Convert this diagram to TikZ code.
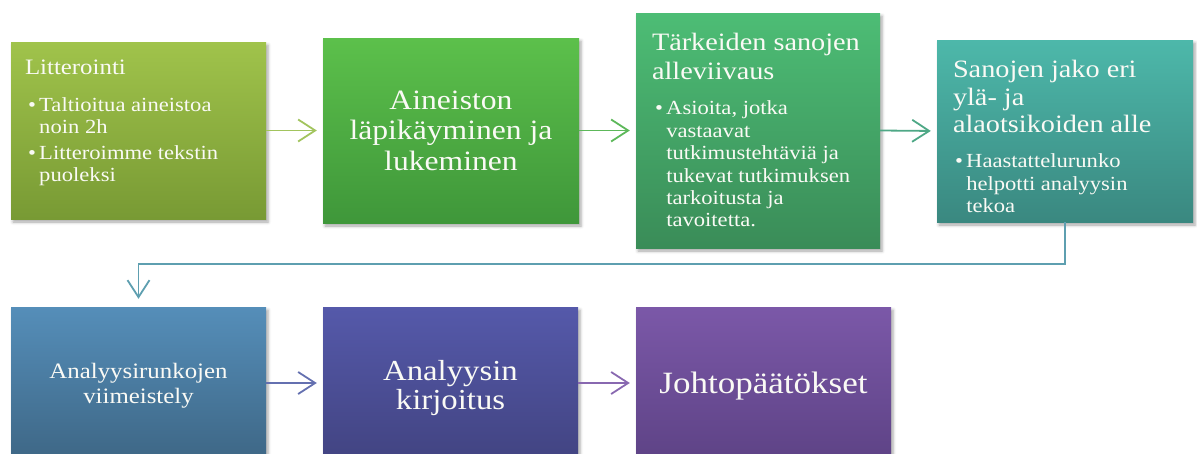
\documentclass[tikz,border=0pt]{standalone}
\usepackage{fontspec}
\setmainfont[FakeStretch=1.13]{Liberation Serif}
\usetikzlibrary{arrows.meta,shadows.blur,calc}
\definecolor{c1t}{HTML}{A0C34B}\definecolor{c1b}{HTML}{789A34}
\definecolor{c2t}{HTML}{5CC04B}\definecolor{c2b}{HTML}{3F973A}
\definecolor{c3t}{HTML}{4DBD75}\definecolor{c3b}{HTML}{3A8C58}
\definecolor{c4t}{HTML}{4DB8AA}\definecolor{c4b}{HTML}{3A8880}
\definecolor{c5t}{HTML}{558EB9}\definecolor{c5b}{HTML}{3E6786}
\definecolor{c6t}{HTML}{5559AA}\definecolor{c6b}{HTML}{424482}
\definecolor{c7t}{HTML}{7B58A8}\definecolor{c7b}{HTML}{5E4386}
\definecolor{a1}{HTML}{A2C45E}\definecolor{a2}{HTML}{5DB85A}
\definecolor{a3}{HTML}{4EA886}\definecolor{a4}{HTML}{5E9FB0}
\definecolor{a5}{HTML}{6470B0}\definecolor{a6}{HTML}{8868B0}
\definecolor{txtc}{HTML}{FAFAF5}
\newcommand{\bl}{\textbullet\,}
\newcommand{\bi}{\phantom{\textbullet\,}}
\begin{document}
\begin{tikzpicture}[x=1pt,y=-1pt,
  box/.style={inner sep=0pt, draw=none,
    blur shadow={shadow xshift=2pt, shadow yshift=-3pt, shadow blur radius=3pt, shadow opacity=35}},
  txt/.style={inner sep=0pt, text=txtc, align=left},
  ctxt/.style={inner sep=0pt, text=txtc, align=center},
  conn/.style={line width=1.8pt, -{Straight Barb[length=17pt,width=22pt]}, shorten >=6pt}]
\useasboundingbox (0,0) rectangle (1197,453);
% boxes
\node[box, minimum width=255pt, minimum height=177pt, top color=c1t, bottom color=c1b] (b1) at (138.5,130.5) {};
\node[box, minimum width=256pt, minimum height=185pt, top color=c2t, bottom color=c2b] (b2) at (451,130.5) {};
\node[box, minimum width=244pt, minimum height=235pt, top color=c3t, bottom color=c3b] (b3) at (758,130.5) {};
\node[box, minimum width=256pt, minimum height=182pt, top color=c4t, bottom color=c4b] (b4) at (1065,131) {};
\node[box, minimum width=255pt, minimum height=152pt, top color=c5t, bottom color=c5b] (b5) at (138.5,383) {};
\node[box, minimum width=255pt, minimum height=152pt, top color=c6t, bottom color=c6b] (b6) at (450.5,383) {};
\node[box, minimum width=255pt, minimum height=152pt, top color=c7t, bottom color=c7b] (b7) at (763.5,383) {};
% texts box 1 (anchor base = baseline of last line)
\node[txt, anchor=base west, font=\fontsize{22}{26}\selectfont] (t1a) at ($(b1.north west)+(14,33)$) {Litterointi};
\node[txt, anchor=base west, font=\fontsize{20}{22}\selectfont] (t1b) at ($(b1.north west)+(17,140)$)
 {\bl Taltioitua aineistoa\\\bi noin 2h\\[4pt]\bl Litteroimme tekstin\\\bi puoleksi};
% box 2
\node[ctxt, anchor=base, font=\fontsize{28}{30.5}\selectfont] (t2) at (451,170)
 {Aineiston\\läpikäyminen ja\\lukeminen};
% box 3
\node[txt, anchor=base west, font=\fontsize{25}{29}\selectfont] (t3a) at ($(b3.north west)+(16,67)$)
 {Tärkeiden sanojen\\alleviivaus};
\node[txt, anchor=base west, font=\fontsize{20}{22.4}\selectfont] (t3b) at ($(b3.north west)+(19,214)$)
 {\bl Asioita, jotka\\\bi vastaavat\\\bi tutkimustehtäviä ja\\\bi tukevat tutkimuksen\\\bi tarkoitusta ja\\\bi tavoitetta.};
% box 4
\node[txt, anchor=base west, font=\fontsize{25}{27.5}\selectfont] (t4a) at ($(b4.north west)+(16,93)$)
 {Sanojen jako eri\\ylä- ja\\alaotsikoiden alle};
\node[txt, anchor=base west, font=\fontsize{20}{22.5}\selectfont] (t4b) at ($(b4.north west)+(18,173)$)
 {\bl Haastattelurunko\\\bi helpotti analyysin\\\bi tekoa};
% row 2 texts
\node[ctxt, anchor=base, font=\fontsize{22}{25}\selectfont] (t5) at (138.5,403) {Analyysirunkojen\\viimeistely};
\node[ctxt, anchor=base, font=\fontsize{29}{29}\selectfont] (t6) at (450.5,409) {Analyysin\\kirjoitus};
\node[ctxt, anchor=base, font=\fontsize{31}{31}\selectfont] (t7) at (763.5,393) {Johtopäätökset};
% connectors
\draw[conn, draw=a1] (b1.east) -- (b2.west);
\draw[conn, draw=a2] (b2.east) -- (b3.west);
\draw[conn, draw=a3] (b3.east) -- (b4.west);
\coordinate (e1) at (138.5,264);
\draw[conn, draw=a4, shorten >=8pt] (b4.south) |- (e1) -- (b5.north);
\draw[conn, draw=a5] (b5.east) -- (b6.west);
\draw[conn, draw=a6] (b6.east) -- (b7.west);
\end{tikzpicture}
\end{document}
